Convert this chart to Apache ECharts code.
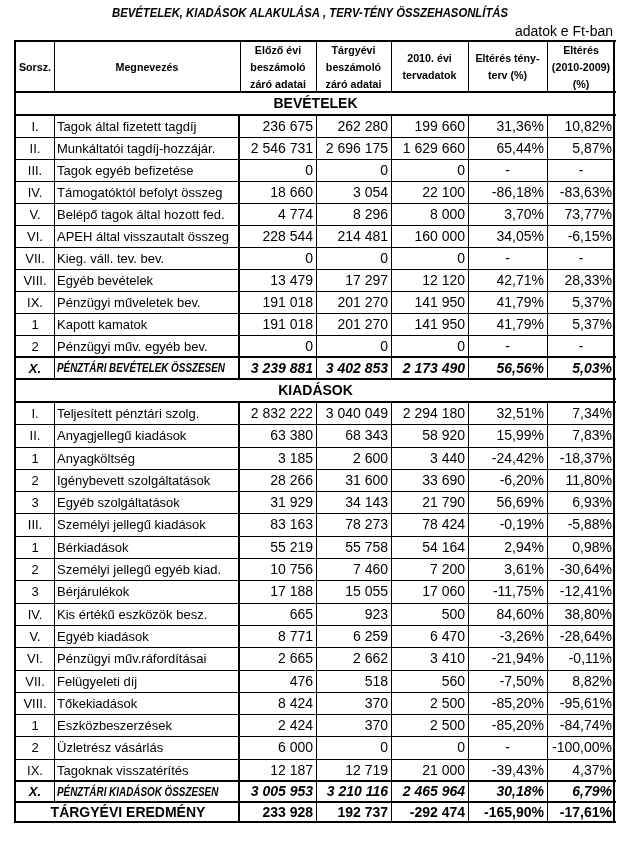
<!DOCTYPE html>
<html><head><meta charset="utf-8">
<script src="https://cdn.jsdelivr.net/npm/echarts@6/dist/echarts.min.js"></script>
<style>html,body{margin:0;padding:0;background:#fff}#c{width:617px;height:845px}</style>
</head><body><div id="c"></div>
<script>
// ---------- DATA ----------
const titleText = 'BEVÉTELEK, KIADÁSOK ALAKULÁSA , TERV-TÉNY ÖSSZEHASONLÍTÁS';
const unitNote = 'adatok e Ft-ban';
const headers = [
  ['Sorsz.'], ['Megnevezés'], ['Előző évi', 'beszámoló', 'záró adatai'],
  ['Tárgyévi', 'beszámoló', 'záró adatai'], ['2010. évi', 'tervadatok'],
  ['Eltérés tény-', 'terv (%)'], ['Eltérés', '(2010-2009)', '(%)']
];
const incomeTitle = 'BEVÉTELEK';
const incomeCodes = ['I.', 'II.', 'III.', 'IV.', 'V.', 'VI.', 'VII.', 'VIII.', 'IX.', '1', '2', 'X.'];
const incomeNames = ['Tagok által fizetett tagdíj', 'Munkáltatói tagdíj-hozzájár.', 'Tagok egyéb befizetése',
  'Támogatóktól befolyt összeg', 'Belépő tagok által hozott fed.', 'APEH által visszautalt összeg',
  'Kieg. váll. tev. bev.', 'Egyéb bevételek', 'Pénzügyi műveletek bev.', 'Kapott kamatok',
  'Pénzügyi műv. egyéb bev.', 'PÉNZTÁRI BEVÉTELEK ÖSSZESEN'];
const incomePrev = [236675, 2546731, 0, 18660, 4774, 228544, 0, 13479, 191018, 191018, 0, 3239881];
const incomeCurr = [262280, 2696175, 0, 3054, 8296, 214481, 0, 17297, 201270, 201270, 0, 3402853];
const incomePlan = [199660, 1629660, 0, 22100, 8000, 160000, 0, 12120, 141950, 141950, 0, 2173490];
const incomeDiffPlan = [31.36, 65.44, null, -86.18, 3.70, 34.05, null, 42.71, 41.79, 41.79, null, 56.56];
const incomeDiffPrev = [10.82, 5.87, null, -83.63, 73.77, -6.15, null, 28.33, 5.37, 5.37, null, 5.03];

const expenseTitle = 'KIADÁSOK';
const expenseCodes = ['I.', 'II.', '1', '2', '3', 'III.', '1', '2', '3', 'IV.', 'V.', 'VI.', 'VII.', 'VIII.', '1', '2', 'IX.', 'X.'];
const expenseNames = ['Teljesített pénztári szolg.', 'Anyagjellegű kiadások', 'Anyagköltség',
  'Igénybevett szolgáltatások', 'Egyéb szolgáltatások', 'Személyi jellegű kiadások', 'Bérkiadások',
  'Személyi jellegű egyéb kiad.', 'Bérjárulékok', 'Kis értékű eszközök besz.', 'Egyéb kiadások',
  'Pénzügyi műv.ráfordításai', 'Felügyeleti díj', 'Tőkekiadások', 'Eszközbeszerzések',
  'Üzletrész vásárlás', 'Tagoknak visszatérítés', 'PÉNZTÁRI KIADÁSOK ÖSSZESEN'];
const expensePrev = [2832222, 63380, 3185, 28266, 31929, 83163, 55219, 10756, 17188, 665, 8771, 2665, 476, 8424, 2424, 6000, 12187, 3005953];
const expenseCurr = [3040049, 68343, 2600, 31600, 34143, 78273, 55758, 7460, 15055, 923, 6259, 2662, 518, 370, 370, 0, 12719, 3210116];
const expensePlan = [2294180, 58920, 3440, 33690, 21790, 78424, 54164, 7200, 17060, 500, 6470, 3410, 560, 2500, 2500, 0, 21000, 2465964];
const expenseDiffPlan = [32.51, 15.99, -24.42, -6.20, 56.69, -0.19, 2.94, 3.61, -11.75, 84.60, -3.26, -21.94, -7.50, -85.20, -85.20, null, -39.43, 30.18];
const expenseDiffPrev = [7.34, 7.83, -18.37, 11.80, 6.93, -5.88, 0.98, -30.64, -12.41, 38.80, -28.64, -0.11, 8.82, -95.61, -84.74, -100.00, 4.37, 6.79];

const resultLabel = 'TÁRGYÉVI EREDMÉNY';
const resultValues = [233928, 192737, -292474];
const resultPcts = [-165.90, -17.61];

// ---------- LAYOUT ----------
const COLS = [16, 54, 240, 316, 391, 468, 547, 615];
const TABLE_TOP = 42;
const FONT = "'Liberation Sans', Arial, sans-serif";

function fmtNum(n) {
  const s = Math.abs(n).toString().replace(/\B(?=(\d{3})+(?!\d))/g, ' ');
  return (n < 0 ? '-' : '') + s;
}
function fmtPct(v) {
  return v == null ? '-' : v.toFixed(2).replace('.', ',') + '%';
}

const rows = [];
rows.push({ kind: 'header', h: 51 });
rows.push({ kind: 'section', text: incomeTitle, h: 23 });
incomeCodes.forEach((c, i) => rows.push({
  kind: i === incomeCodes.length - 1 ? 'total' : 'data', code: c, name: incomeNames[i],
  vals: [incomePrev[i], incomeCurr[i], incomePlan[i]], pcts: [incomeDiffPlan[i], incomeDiffPrev[i]], h: 22
}));
rows.push({ kind: 'section', text: expenseTitle, h: 23 });
expenseCodes.forEach((c, i) => rows.push({
  kind: i === expenseCodes.length - 1 ? 'total' : 'data', code: c, name: expenseNames[i],
  vals: [expensePrev[i], expenseCurr[i], expensePlan[i]], pcts: [expenseDiffPlan[i], expenseDiffPrev[i]],
  h: i === expenseCodes.length - 1 ? 21 : 22.3
}));
rows.push({ kind: 'result', name: resultLabel, vals: resultValues, pcts: resultPcts, h: 20 });

let acc = TABLE_TOP;
const rowData = rows.map(r => { const t = acc; acc += r.h; return [t, acc]; });

function renderItem(params, api) {
  const idx = params.dataIndex;
  const r = rows[idx];
  const next = rows[idx + 1];
  const last = idx === rows.length - 1;
  const yTop = Math.round(api.coord([COLS[0], api.value(0)])[1]);
  const yBot = Math.round(api.coord([COLS[0], api.value(1)])[1]);
  const X = COLS.map(c => Math.round(api.coord([c, api.value(0)])[0]));
  const yc = (yTop + yBot) / 2;
  const ch = [];
  const line = (x1, y1, x2, y2, w) => {
    const off = w % 2 === 1 ? 0.5 : 0;
    if (x1 === x2) { x1 += off; x2 += off; } else { y1 += off; y2 += off; }
    ch.push({ type: 'line', shape: { x1, y1, x2, y2 }, style: { stroke: '#000', lineWidth: w } });
  };
  const text = (t, x, y, align, font, sx) => {
    ch.push({ type: 'text', x, y, scaleX: sx || 1, style: { text: t, font, fill: '#000', textAlign: align, textVerticalAlign: 'middle' } });
  };
  // horizontal lines
  if (idx === 0) line(X[0] - 2, yTop - 1, X[7] + 1, yTop - 1, 2);
  const thickBottom = r.kind !== 'data' || (next && next.kind === 'total');
  if (thickBottom) line(X[0] - 2, yBot - 1, X[7] + 1, yBot - 1, 2);
  else line(X[0], yBot - 1, X[7], yBot - 1, 1);
  // vertical lines
  line(X[0] - 1, yTop - 1, X[0] - 1, last ? yBot : yBot + 1, 2);
  line(X[7] - 1, yTop - 1, X[7] - 1, last ? yBot : yBot + 1, 2);
  if (r.kind === 'header') {
    for (let k = 1; k < 7; k++) line(X[k], yTop, X[k], yBot, 1);
  } else if (r.kind !== 'section') {
    for (let k = 1; k < 7; k++) {
      if (r.kind === 'result' && k === 1) continue;
      if (k === 2) line(X[k] - 1, yTop, X[k] - 1, yBot, 2);
      else line(X[k], yTop, X[k], yBot, 1);
    }
  }
  // texts
  if (r.kind === 'header') {
    headers.forEach((lines, k) => {
      const cx = (X[k] + X[k + 1]) / 2;
      lines.forEach((t, j) => text(t, cx, yc + (j - (lines.length - 1) / 2) * 17, 'center', 'bold 11.5px ' + FONT, 0.93));
    });
  } else if (r.kind === 'section') {
    text(r.text, (X[0] + X[7]) / 2, yc, 'center', 'bold 14px ' + FONT);
  } else if (r.kind === 'result') {
    text(r.name, (X[0] + X[2]) / 2, yc, 'center', 'bold 14px ' + FONT);
    r.vals.forEach((v, k) => text(fmtNum(v), X[k + 3] - 3, yc, 'right', 'bold 14px ' + FONT));
    r.pcts.forEach((v, k) => text(fmtPct(v), X[k + 6] - 3, yc, 'right', 'bold 14px ' + FONT));
  } else {
    const total = r.kind === 'total';
    const codeFont = total ? 'italic bold 13px ' : '13px ';
    const numFont = total ? 'italic bold 14px ' : '14px ';
    text(r.code, (X[0] + X[1]) / 2, yc, 'center', codeFont + FONT);
    if (total) text(r.name, X[1] + 3, yc, 'left', 'italic bold 12.5px ' + FONT, 0.79);
    else text(r.name, X[1] + 3, yc, 'left', '13px ' + FONT);
    r.vals.forEach((v, k) => text(fmtNum(v), X[k + 3] - 3, yc, 'right', numFont + FONT));
    r.pcts.forEach((v, k) => {
      if (v == null) text('-', (X[k + 5] + X[k + 6]) / 2, yc, 'center', numFont + FONT);
      else text(fmtPct(v), X[k + 6] - 3, yc, 'right', numFont + FONT);
    });
  }
  return { type: 'group', children: ch };
}

const chart = echarts.init(document.getElementById('c'), null, { renderer: 'canvas' });
chart.setOption({
  animation: false,
  backgroundColor: '#fff',
  graphic: [
    { type: 'text', x: 310, y: 13, scaleX: 0.87, silent: true,
      style: { text: titleText, font: 'italic bold 13px ' + FONT, fill: '#000', textAlign: 'center', textVerticalAlign: 'middle' } },
    { type: 'text', x: 613, y: 32, silent: true,
      style: { text: unitNote, font: '14px ' + FONT, fill: '#000', textAlign: 'right', textVerticalAlign: 'middle' } }
  ],
  grid: { left: 16, right: 2, top: 42, bottom: 22 },
  xAxis: { type: 'value', min: COLS[0], max: COLS[7], show: false },
  yAxis: { type: 'value', min: TABLE_TOP, max: acc, inverse: true, show: false },
  series: [{ type: 'custom', renderItem, data: rowData, clip: false, silent: true }]
});
</script></body></html>
